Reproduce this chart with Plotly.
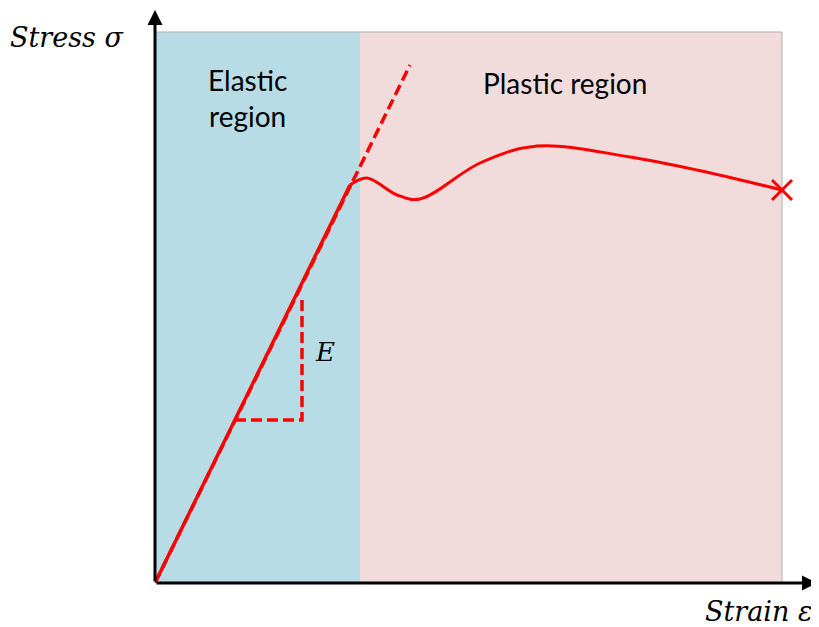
import plotly.graph_objects as go

# Data (units: strain / stress, arbitrary)
elastic_x = [0, 195]
elastic_y = [0, 398]
plastic_x = [195, 212, 242, 265, 325, 382, 475, 542, 627]
plastic_y = [398, 405, 388, 384, 420, 437, 426, 413, 393]
fracture_x = [627]
fracture_y = [393]
extension_x = [0, 255]
extension_y = [0, 518]
triangle_x = [80, 147, 147]
triangle_y = [163, 163, 286]
elastic_limit = 205
region_top = 551
region_end = 627

RED = "#ff0000"
fig = go.Figure()

fig.add_shape(type="rect", x0=0, x1=elastic_limit, y0=0, y1=region_top,
              fillcolor="#b7dce6", line_width=0, layer="below")
fig.add_shape(type="rect", x0=elastic_limit, x1=region_end, y0=0, y1=region_top,
              fillcolor="#f2dcdb", line_width=0, layer="below")
fig.add_shape(type="rect", x0=0, x1=region_end, y0=0, y1=region_top,
              fillcolor="rgba(0,0,0,0)", line=dict(color="#b0b0b0", width=1), layer="below")

fig.add_trace(go.Scatter(x=extension_x, y=extension_y, mode="lines",
                         line=dict(color=RED, width=3.5, dash="11px,5px"), cliponaxis=False))
fig.add_trace(go.Scatter(x=triangle_x, y=triangle_y, mode="lines",
                         line=dict(color=RED, width=3.5, dash="11px,5px")))
fig.add_trace(go.Scatter(x=elastic_x, y=elastic_y, mode="lines",
                         line=dict(color=RED, width=3.5)))
fig.add_trace(go.Scatter(x=plastic_x, y=plastic_y, mode="lines",
                         line=dict(color=RED, width=3, shape="spline", smoothing=1.0)))
fig.add_trace(go.Scatter(x=fracture_x, y=fracture_y, mode="markers",
                         marker=dict(symbol="x-thin", size=20, line=dict(color=RED, width=3))))

# Axes arrows
fig.add_annotation(x=0, y=573, ax=0, ay=0, xref="x", yref="y", axref="x", ayref="y",
                   showarrow=True, arrowhead=2, arrowsize=1, arrowwidth=3, arrowcolor="black", text="")
fig.add_annotation(x=662, y=0, ax=0, ay=0, xref="x", yref="y", axref="x", ayref="y",
                   showarrow=True, arrowhead=2, arrowsize=1, arrowwidth=3, arrowcolor="black", text="")

sans = "Lato, Open Sans, sans-serif"
serif = "DejaVu Serif, Liberation Serif, serif"
fig.add_annotation(x=92, y=485, xref="x", yref="y", text="Elastic<br>region", showarrow=False,
                   font=dict(family=sans, size=28, color="black"))
fig.add_annotation(x=410, y=500, xref="x", yref="y", text="Plastic region", showarrow=False,
                   font=dict(family=sans, size=28, color="black"))
fig.add_annotation(x=170, y=231, xref="x", yref="y", text="<i>E</i>", showarrow=False,
                   font=dict(family=serif, size=26, color="black"))
fig.add_annotation(x=(67 - 155) / 662, y=(583 - 38) / 573, xref="paper", yref="paper",
                   xanchor="center", yanchor="middle",
                   text="<i>Stress σ</i>", showarrow=False,
                   font=dict(family=serif, size=27, color="black"))
fig.add_annotation(x=(758 - 155) / 662, y=(583 - 611) / 573, xref="paper", yref="paper",
                   xanchor="center", yanchor="middle",
                   text="<i>Strain ε</i>", showarrow=False,
                   font=dict(family=serif, size=27, color="black"))

fig.update_xaxes(range=[0, 662], visible=False)
fig.update_yaxes(range=[0, 573], visible=False)
fig.update_layout(width=819, height=627, showlegend=False,
                  margin=dict(l=147, r=10, t=2, b=52, autoexpand=False),
                  plot_bgcolor="white", paper_bgcolor="white")
fig.write_html("out.html")
